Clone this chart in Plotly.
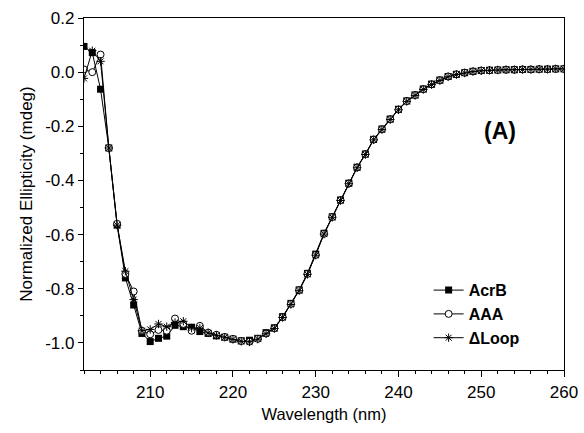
import plotly.graph_objects as go

wavelength = list(range(202, 261))

acrb = [0.095, 0.072, -0.063, -0.28, -0.565, -0.76, -0.86, -0.965, -0.995, -0.983,
        -0.975, -0.935, -0.94, -0.942, -0.958, -0.965, -0.974, -0.979, -0.986, -0.992,
        -0.99, -0.983, -0.962, -0.944, -0.903, -0.854, -0.804, -0.743, -0.672, -0.595,
        -0.534, -0.472, -0.41, -0.351, -0.302, -0.248, -0.21, -0.173, -0.137, -0.106,
        -0.084, -0.062, -0.044, -0.029, -0.016, -0.008, -0.002, 0.003, 0.006, 0.007,
        0.008, 0.009, 0.009, 0.01, 0.01, 0.011, 0.011, 0.012, 0.012]

aaa = [0.01, 0.0, 0.065, -0.28, -0.56, -0.745, -0.81, -0.955, -0.968, -0.952,
       -0.955, -0.91, -0.93, -0.955, -0.937, -0.962, -0.97, -0.978, -0.985, -0.993,
       -0.995, -0.985, -0.965, -0.946, -0.905, -0.856, -0.805, -0.745, -0.675, -0.597,
       -0.535, -0.473, -0.411, -0.352, -0.303, -0.249, -0.211, -0.174, -0.138, -0.107,
       -0.085, -0.063, -0.045, -0.03, -0.016, -0.008, -0.002, 0.003, 0.006, 0.007,
       0.008, 0.009, 0.009, 0.01, 0.01, 0.011, 0.011, 0.012, 0.012]

dloop = [-0.023, 0.079, 0.04, -0.28, -0.565, -0.735, -0.84, -0.955, -0.95, -0.93,
         -0.94, -0.925, -0.92, -0.945, -0.945, -0.963, -0.972, -0.979, -0.987, -0.994,
         -0.996, -0.986, -0.966, -0.947, -0.906, -0.858, -0.807, -0.747, -0.676, -0.598,
         -0.536, -0.474, -0.412, -0.353, -0.304, -0.25, -0.212, -0.175, -0.139, -0.108,
         -0.086, -0.064, -0.046, -0.031, -0.017, -0.009, -0.003, 0.002, 0.005, 0.007,
         0.008, 0.009, 0.009, 0.01, 0.01, 0.011, 0.011, 0.012, 0.012]

series_names = ["AcrB", "AAA", "\u0394Loop"]

x_tickvals = [210, 220, 230, 240, 250, 260]
x_ticktext = ["210", "220", "230", "240", "250", "260"]
y_tickvals = [0.2, 0.0, -0.2, -0.4, -0.6, -0.8, -1.0]
y_ticktext = ["0.2", "0.0", "-0.2", "-0.4", "-0.6", "-0.8", "-1.0"]

FONT = "Arial"

fig = go.Figure()
fig.add_trace(go.Scatter(
    x=wavelength, y=acrb, name="<b>" + series_names[0] + "</b>", mode="lines+markers",
    line=dict(color="black", width=1),
    marker=dict(symbol="square", size=7, color="black", line=dict(width=0)),
))
fig.add_trace(go.Scatter(
    x=wavelength, y=aaa, name="<b>" + series_names[1] + "</b>", mode="lines+markers",
    line=dict(color="black", width=1),
    marker=dict(symbol="circle", size=7, color="white", line=dict(color="black", width=1)),
))
fig.add_trace(go.Scatter(
    x=wavelength, y=dloop, name="<b>" + series_names[2] + "</b>", mode="lines+markers",
    line=dict(color="black", width=1),
    marker=dict(symbol="asterisk-open", size=7, color="black", line=dict(color="black", width=1)),
))

fig.update_layout(
    width=584, height=433,
    margin=dict(l=84, r=20, t=18, b=63, autoexpand=False),
    paper_bgcolor="white", plot_bgcolor="white",
    font=dict(family=FONT, color="black", size=16),
    showlegend=True,
    legend=dict(x=0.718, y=0.275, xanchor="left", yanchor="top",
                bgcolor="rgba(0,0,0,0)", font=dict(size=16, family=FONT),
                itemwidth=30, tracegroupgap=0),
    annotations=[dict(text="<b>(A)</b>", x=0.867, y=0.68, xref="paper", yref="paper",
                      showarrow=False, font=dict(size=23, family=FONT),
                      xanchor="center", yanchor="middle")],
)

fig.update_xaxes(
    range=[202, 260], tickvals=x_tickvals, ticktext=x_ticktext,
    ticks="outside", ticklen=6, tickwidth=1.3, tickcolor="black",
    minor=dict(dtick=2, tick0=202, ticks="outside", ticklen=3, tickcolor="black", tickwidth=1.3),
    showline=True, linecolor="black", linewidth=1.3, mirror=True,
    showgrid=False, zeroline=False,
    title=dict(text="Wavelength (nm)", font=dict(size=16.5, family=FONT), standoff=7),
    tickfont=dict(size=17, family=FONT),
)
fig.update_yaxes(
    range=[-1.1, 0.2], tickvals=y_tickvals, ticktext=y_ticktext,
    ticks="outside", ticklen=5, tickwidth=1.3, tickcolor="black",
    minor=dict(dtick=0.1, tick0=0, ticks="outside", ticklen=3, tickcolor="black", tickwidth=1.3),
    showline=True, linecolor="black", linewidth=1.3, mirror=True,
    showgrid=False, zeroline=False,
    title=dict(text="Normalized Ellipticity (mdeg)", font=dict(size=17, family=FONT), standoff=8),
    tickfont=dict(size=17, family=FONT),
)

fig.write_html("out.html")
